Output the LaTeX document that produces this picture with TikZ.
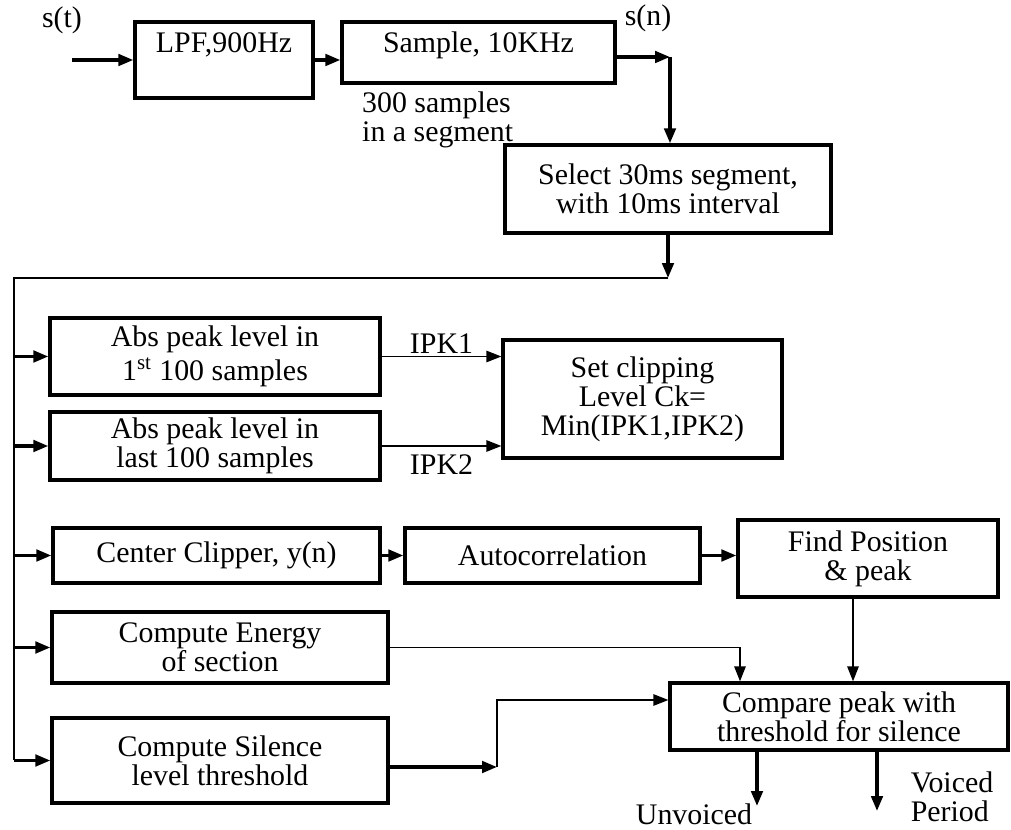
\documentclass[tikz,border=0pt]{standalone}
\usepackage{fontspec}
\setmainfont{Liberation Serif}
\usetikzlibrary{arrows.meta,positioning}

\begin{document}
\begin{tikzpicture}[x=0.02cm, y=-0.02cm,
    font=\fontsize{17}{16.5}\selectfont,
    >={Triangle[length=8.5pt,width=6.5pt]},
    blk/.style={draw, line width=1.9pt, align=center, inner sep=0pt},
    thk/.style={->, line width=1.9pt},
    thn/.style={line width=0.8pt}]
  \useasboundingbox (0,0) rectangle (1011,830);

  %% Input stage
  \node (st) at (62,20) {s(t)};
  \coordinate (in) at (72,60);
  \node[blk, minimum width=3.56cm, minimum height=1.52cm] (lpf) at (224,60) {};
  \node (lpftx) at (224,45) {LPF,900Hz};
  \node[blk, minimum width=5.46cm, minimum height=1.22cm] (smp) at (478.5,52.5) {};
  \node (smptx) at (478.5,45) {Sample, 10KHz};
  \node[align=left, anchor=north west] (seg) at (356,86) {300 samples\\in a segment};
  \draw[thk] (in) -- (lpf.west);
  \draw[thk] (lpf.east) -- (lpf.east -| smp.west);

  %% Segment selection
  \coordinate (sn) at (670,57);
  \node (sntx) at (648,18) {s(n)};
  \node[blk, minimum width=6.52cm, minimum height=1.76cm] (sel) at (668,189)
    {Select 30ms segment,\\with 10ms interval};
  \draw[thk] (smp.east |- sn) -- (sn);
  \draw[thk] (sn) -- (sn |- sel.north);

  %% Left bus
  \coordinate (bt) at (668,278);
  \coordinate (bl) at (14,278);
  \draw[thk] (sel.south) -- (bt);

  %% Peak level boxes
  \node[blk, minimum width=6.6cm, minimum height=1.54cm] (ab1) at (215,356.5)
    {Abs peak level in\\[2pt]1\textsuperscript{st} 100 samples};
  \node[blk, minimum width=6.6cm, minimum height=1.36cm] (ab2) at (215,446)
    {Abs peak level in\\last 100 samples};
  \node[blk, minimum width=5.58cm, minimum height=2.36cm] (clp) at (642.5,399)
    {Set clipping\\Level Ck=\\Min(IPK1,IPK2)};
  \draw[->, thn] (ab1.east) -- (ab1.east -| clp.west)
    node[midway, above=-2pt] (ipk1) {IPK1};
  \draw[->, thn] (ab2.east) -- (ab2.east -| clp.west)
    node[midway, below=1pt] (ipk2) {IPK2};

  %% Pitch path
  \node[blk, minimum width=6.54cm, minimum height=1.1cm] (ccl) at (216.5,555.5)
    {Center Clipper, y(n)};
  \node[blk, minimum width=5.9cm, minimum height=1.1cm] (acr) at (552.5,555.5)
    {Autocorrelation};
  \node[blk, minimum width=5.2cm, minimum height=1.54cm] (fnd) at (868,558.5)
    {Find Position\\\& peak};
  \draw[thk] (ccl.east) -- (acr.west);
  \draw[thk] (acr.east) -- (acr.east -| fnd.west);

  %% Energy and silence
  \node[blk, minimum width=6.72cm, minimum height=1.42cm] (eng) at (220,647.5)
    {Compute Energy\\of section};
  \node[blk, minimum width=6.72cm, minimum height=1.7cm] (sil) at (220,760.5)
    {Compute Silence\\level threshold};
  \node[blk, minimum width=6.76cm, minimum height=1.34cm] (cmp) at (839,716.5)
    {Compare peak with\\threshold for silence};

  \draw[thn] (bt) -- (bl) -- (bl |- sil.west);
  \foreach \n in {ab1,ab2,ccl,eng,sil}{
    \draw[thk] (bl |- \n.west) -- (\n.west);
  }

  \coordinate (e1) at (740,647.5);
  \coordinate (f1) at (853,597);
  \coordinate (s1) at (497,767);
  \coordinate (s2) at (497,700);
  \draw[->, thn] (eng.east) -- (e1) -- (e1 |- cmp.north);
  \draw[->, thn] (f1) -- (f1 |- cmp.north);
  \draw[thk] (sil.east |- s1) -- (s1);
  \draw[->, thn] (s1) -- (s2) -- (s2 -| cmp.west);

  %% Decision outputs
  \coordinate (u1) at (757,806);
  \coordinate (v1) at (877,811);
  \draw[thk] (u1 |- cmp.south) -- (u1);
  \draw[thk] (v1 |- cmp.south) -- (v1);
  \node (uv) at (694,814) {Unvoiced};
  \node[align=left] (vp) at (952,797) {Voiced\\Period};

\end{tikzpicture}
\end{document}
